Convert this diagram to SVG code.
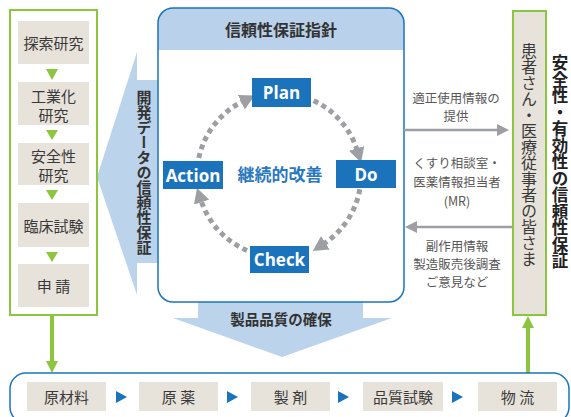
<svg xmlns="http://www.w3.org/2000/svg" width="571" height="417" viewBox="0 0 571 417">
<defs>
<style>
.jp{font-family:"Noto Sans CJK JP","Noto Sans",sans-serif;}
.stage{fill:#e8e3da;}
.stxt{font-family:"Noto Sans CJK JP",sans-serif;font-size:15px;fill:#3a3a3a;text-anchor:middle;dominant-baseline:central;}
.side{font-family:"Noto Sans CJK JP",sans-serif;font-size:12.5px;fill:#595757;text-anchor:middle;dominant-baseline:central;}
.pdca{fill:#1a73bb;}
.ptxt{font-family:"Open Sans","Noto Sans",sans-serif;font-size:17px;font-weight:bold;fill:#fff;text-anchor:middle;dominant-baseline:central;}
.green{stroke:#8cc63f;fill:none;stroke-width:2;}
.gtri{fill:#8cc63f;}
.btri{fill:#1a73bb;}
.bigarrow{fill:#bcd3ec;}
.cyc{fill:none;stroke:#9d9fa2;stroke-width:5;stroke-dasharray:5 4;marker-end:url(#gh);}
.vert{writing-mode:vertical-rl;text-anchor:middle;}
</style>
<marker id="gh" markerUnits="userSpaceOnUse" markerWidth="16" markerHeight="16" viewBox="0 0 16 16" refX="2" refY="8" orient="auto">
<path d="M0,0 L15,8 L0,16 Z" fill="#9d9fa2"/>
</marker>
</defs>
<rect width="571" height="417" fill="#fff"/>

<g id="arrow-left">
<polygon class="bigarrow" points="160,80 137,80 137,52 97,177 137,295 137,263 160,263"/>
<text class="vert jp" x="144" y="172" font-size="15" font-weight="bold" fill="#333">開発データの信頼性保証</text>
</g>
<g id="arrow-down">
<polygon class="bigarrow" points="198,298 363,298 363,318 392,318 282,357 173,318 198,318"/>
<text class="jp" x="281" y="318" font-size="14.5" font-weight="bold" fill="#333" text-anchor="middle" dominant-baseline="central">製品品質の確保</text>
</g>

<g id="policy">
<rect x="158" y="8" width="246" height="294" rx="15" fill="#fff"/>
<path d="M158,50 V23 A15,15 0 0 1 173,8 H389 A15,15 0 0 1 404,23 V50 Z" fill="#b9d1ea"/>
<rect x="158" y="8" width="246" height="294" rx="15" fill="none" stroke="#1a75bc" stroke-width="1.5"/>
<text class="jp" x="281" y="29" font-size="16" font-weight="bold" fill="#333" text-anchor="middle" dominant-baseline="central">信頼性保証指針</text>
<text class="jp" x="280" y="173" font-size="17" font-weight="bold" fill="#2a78c0" text-anchor="middle" dominant-baseline="central">継続的改善</text>
</g>

<g id="connectors">
<path class="cyc" d="M198.8,158 A82,82 0 0 1 243.1,101.3"/>
<path class="cyc" d="M313.7,100.7 A82,82 0 0 1 357.2,150.3"/>
<path class="cyc" d="M359.8,189.3 A82,82 0 0 1 323.7,243.8"/>
<path class="cyc" d="M247,250.5 A82,82 0 0 1 201,200.3"/>
<line x1="404" y1="130" x2="498" y2="130" stroke="#9d9fa2" stroke-width="2.5"/>
<polygon points="497,124 509,130 497,136" fill="#9d9fa2"/>
<line x1="512" y1="227" x2="416" y2="227" stroke="#9d9fa2" stroke-width="2.5"/>
<polygon points="417,221 405,227 417,233" fill="#9d9fa2"/>
<line x1="52" y1="315" x2="52" y2="363" stroke="#8cc63f" stroke-width="4"/>
<polygon points="46,361 58,361 52,373" fill="#8cc63f"/>
<line x1="528" y1="373" x2="528" y2="327" stroke="#8cc63f" stroke-width="4"/>
<polygon points="522,328 534,328 528,316" fill="#8cc63f"/>
</g>

<g id="plan"><rect class="pdca" x="252" y="78" width="59" height="29"/><text class="ptxt" x="281.5" y="92.5">Plan</text></g>
<g id="do"><rect class="pdca" x="336" y="160" width="60" height="28"/><text class="ptxt" x="366" y="174">Do</text></g>
<g id="action"><rect class="pdca" x="163" y="161" width="60" height="28"/><text class="ptxt" x="193" y="175">Action</text></g>
<g id="check"><rect class="pdca" x="250" y="246" width="59" height="27"/><text class="ptxt" x="279.5" y="259.5">Check</text></g>

<g id="development">
<rect x="10" y="10" width="87" height="305" class="green"/>
<rect class="stage" x="18" y="21" width="71" height="43"/>
<text class="stxt" x="53.5" y="42.5">探索研究</text>
<polygon class="gtri" points="46,69 58,69 52,80"/>
<rect class="stage" x="18" y="82" width="71" height="43"/>
<text class="stxt" x="53.5" y="95">工業化</text>
<text class="stxt" x="53.5" y="114">研究</text>
<polygon class="gtri" points="46,130 58,130 52,140"/>
<rect class="stage" x="18" y="143" width="71" height="42"/>
<text class="stxt" x="53.5" y="155">安全性</text>
<text class="stxt" x="53.5" y="174">研究</text>
<polygon class="gtri" points="46,190 58,190 52,200"/>
<rect class="stage" x="18" y="203" width="71" height="44"/>
<text class="stxt" x="53.5" y="225">臨床試験</text>
<polygon class="gtri" points="46,252 58,252 52,262"/>
<rect class="stage" x="18" y="264" width="71" height="43"/>
<text class="stxt" x="53.5" y="285.5">申 請</text>
</g>

<g id="info-out">
<text class="side" x="456" y="97">適正使用情報の</text>
<text class="side" x="456" y="115">提供</text>
</g>
<g id="info-mr">
<text class="side" x="457" y="162">くすり相談室・</text>
<text class="side" x="457" y="181">医薬情報担当者</text>
<text class="side" x="457" y="200">(MR)</text>
</g>
<g id="info-in">
<text class="side" x="457" y="245">副作用情報</text>
<text class="side" x="457" y="263">製造販売後調査</text>
<text class="side" x="457" y="281">ご意見など</text>
</g>
<g id="patients">
<rect class="stage" x="513" y="11" width="33" height="304"/>
<rect x="513" y="11" width="33" height="304" class="green"/>
<text class="vert jp" x="529" y="155" font-size="16" fill="#3a3a3a">患者さん・医療従事者の皆さま</text>
</g>
<g id="reliability">
<text class="vert jp" x="560" y="162" font-size="16.5" font-weight="bold" fill="#222">安全性・有効性の信頼性保証</text>
</g>

<g id="production">
<rect x="10" y="373" width="559" height="50" rx="16" fill="none" stroke="#1a75bc" stroke-width="1.5"/>
<rect class="stage" x="27" y="382" width="79" height="29"/>
<text class="stxt" x="66.5" y="396.5">原材料</text>
<polygon class="btri" points="116,391 127,397 116,403"/>
<rect class="stage" x="139" y="382" width="79" height="29"/>
<text class="stxt" x="178.5" y="396.5">原 薬</text>
<polygon class="btri" points="227,391 238,397 227,403"/>
<rect class="stage" x="251" y="382" width="79" height="29"/>
<text class="stxt" x="290.5" y="396.5">製 剤</text>
<polygon class="btri" points="338,391 349,397 338,403"/>
<rect class="stage" x="363" y="382" width="80" height="29"/>
<text class="stxt" x="403" y="396.5">品質試験</text>
<polygon class="btri" points="452,391 463,397 452,403"/>
<rect class="stage" x="478" y="382" width="79" height="29"/>
<text class="stxt" x="517.5" y="396.5">物 流</text>
</g>
</svg>
